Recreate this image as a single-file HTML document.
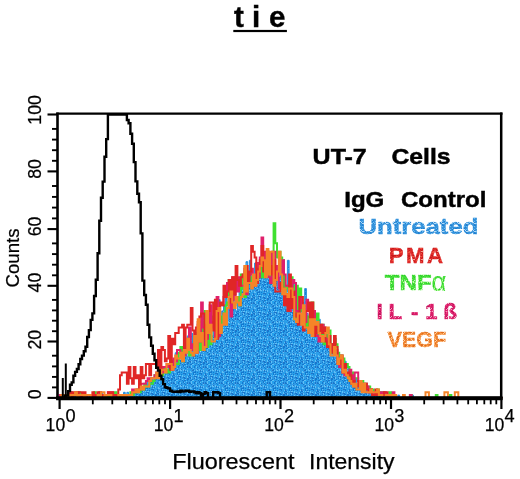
<!DOCTYPE html>
<html><head><meta charset="utf-8"><title>tie</title>
<style>
html,body{margin:0;padding:0;background:#fff;}
body{width:520px;height:479px;overflow:hidden;font-family:"Liberation Sans",sans-serif;}
svg text{font-family:"Liberation Sans",sans-serif;}
</style></head><body>
<svg width="520" height="479" viewBox="0 0 520 479" style="display:block">
<defs>
<pattern id="pBlue" width="16" height="16" patternUnits="userSpaceOnUse"><rect width="16" height="16" fill="#2f9be6"/><rect x="1" y="0" width="1" height="1" fill="#60c0f6"/><rect x="9" y="0" width="1" height="1" fill="#1478cf"/><rect x="11" y="0" width="1" height="1" fill="#60c0f6"/><rect x="13" y="0" width="1" height="1" fill="#22a2ee"/><rect x="15" y="0" width="1" height="1" fill="#1478cf"/><rect x="1" y="1" width="1" height="1" fill="#1478cf"/><rect x="4" y="1" width="1" height="1" fill="#60c0f6"/><rect x="5" y="1" width="1" height="1" fill="#2a6fc0"/><rect x="7" y="1" width="1" height="1" fill="#60c0f6"/><rect x="8" y="1" width="1" height="1" fill="#22a2ee"/><rect x="9" y="1" width="1" height="1" fill="#22a2ee"/><rect x="13" y="1" width="1" height="1" fill="#22a2ee"/><rect x="0" y="2" width="1" height="1" fill="#2a6fc0"/><rect x="1" y="2" width="1" height="1" fill="#1478cf"/><rect x="2" y="2" width="1" height="1" fill="#60c0f6"/><rect x="4" y="2" width="1" height="1" fill="#60c0f6"/><rect x="5" y="2" width="1" height="1" fill="#60c0f6"/><rect x="7" y="2" width="1" height="1" fill="#60c0f6"/><rect x="8" y="2" width="1" height="1" fill="#2a6fc0"/><rect x="9" y="2" width="1" height="1" fill="#60c0f6"/><rect x="11" y="2" width="1" height="1" fill="#60c0f6"/><rect x="14" y="2" width="1" height="1" fill="#22a2ee"/><rect x="3" y="3" width="1" height="1" fill="#1478cf"/><rect x="8" y="3" width="1" height="1" fill="#1478cf"/><rect x="10" y="3" width="1" height="1" fill="#1478cf"/><rect x="11" y="3" width="1" height="1" fill="#60c0f6"/><rect x="14" y="3" width="1" height="1" fill="#60c0f6"/><rect x="1" y="4" width="1" height="1" fill="#1478cf"/><rect x="2" y="4" width="1" height="1" fill="#1478cf"/><rect x="3" y="4" width="1" height="1" fill="#1478cf"/><rect x="4" y="4" width="1" height="1" fill="#22a2ee"/><rect x="5" y="4" width="1" height="1" fill="#1478cf"/><rect x="6" y="4" width="1" height="1" fill="#22a2ee"/><rect x="9" y="4" width="1" height="1" fill="#60c0f6"/><rect x="12" y="4" width="1" height="1" fill="#22a2ee"/><rect x="14" y="4" width="1" height="1" fill="#60c0f6"/><rect x="15" y="4" width="1" height="1" fill="#60c0f6"/><rect x="0" y="5" width="1" height="1" fill="#22a2ee"/><rect x="1" y="5" width="1" height="1" fill="#1478cf"/><rect x="2" y="5" width="1" height="1" fill="#60c0f6"/><rect x="5" y="5" width="1" height="1" fill="#22a2ee"/><rect x="7" y="5" width="1" height="1" fill="#2a6fc0"/><rect x="8" y="5" width="1" height="1" fill="#1478cf"/><rect x="9" y="5" width="1" height="1" fill="#1478cf"/><rect x="11" y="5" width="1" height="1" fill="#22a2ee"/><rect x="13" y="5" width="1" height="1" fill="#1478cf"/><rect x="0" y="6" width="1" height="1" fill="#22a2ee"/><rect x="1" y="6" width="1" height="1" fill="#1478cf"/><rect x="3" y="6" width="1" height="1" fill="#1478cf"/><rect x="5" y="6" width="1" height="1" fill="#1478cf"/><rect x="6" y="6" width="1" height="1" fill="#22a2ee"/><rect x="8" y="6" width="1" height="1" fill="#22a2ee"/><rect x="9" y="6" width="1" height="1" fill="#1478cf"/><rect x="11" y="6" width="1" height="1" fill="#22a2ee"/><rect x="12" y="6" width="1" height="1" fill="#60c0f6"/><rect x="13" y="6" width="1" height="1" fill="#2a6fc0"/><rect x="0" y="7" width="1" height="1" fill="#22a2ee"/><rect x="1" y="7" width="1" height="1" fill="#60c0f6"/><rect x="3" y="7" width="1" height="1" fill="#60c0f6"/><rect x="4" y="7" width="1" height="1" fill="#60c0f6"/><rect x="5" y="7" width="1" height="1" fill="#22a2ee"/><rect x="6" y="7" width="1" height="1" fill="#60c0f6"/><rect x="12" y="7" width="1" height="1" fill="#22a2ee"/><rect x="13" y="7" width="1" height="1" fill="#1478cf"/><rect x="14" y="7" width="1" height="1" fill="#1478cf"/><rect x="15" y="7" width="1" height="1" fill="#60c0f6"/><rect x="2" y="8" width="1" height="1" fill="#1478cf"/><rect x="3" y="8" width="1" height="1" fill="#2a6fc0"/><rect x="4" y="8" width="1" height="1" fill="#1478cf"/><rect x="6" y="8" width="1" height="1" fill="#60c0f6"/><rect x="8" y="8" width="1" height="1" fill="#60c0f6"/><rect x="10" y="8" width="1" height="1" fill="#22a2ee"/><rect x="11" y="8" width="1" height="1" fill="#60c0f6"/><rect x="12" y="8" width="1" height="1" fill="#1478cf"/><rect x="3" y="9" width="1" height="1" fill="#60c0f6"/><rect x="4" y="9" width="1" height="1" fill="#1478cf"/><rect x="7" y="9" width="1" height="1" fill="#2a6fc0"/><rect x="8" y="9" width="1" height="1" fill="#1478cf"/><rect x="11" y="9" width="1" height="1" fill="#60c0f6"/><rect x="13" y="9" width="1" height="1" fill="#1478cf"/><rect x="14" y="9" width="1" height="1" fill="#2a6fc0"/><rect x="15" y="9" width="1" height="1" fill="#60c0f6"/><rect x="2" y="10" width="1" height="1" fill="#1478cf"/><rect x="3" y="10" width="1" height="1" fill="#60c0f6"/><rect x="8" y="10" width="1" height="1" fill="#1478cf"/><rect x="9" y="10" width="1" height="1" fill="#1478cf"/><rect x="11" y="10" width="1" height="1" fill="#2a6fc0"/><rect x="12" y="10" width="1" height="1" fill="#1478cf"/><rect x="14" y="10" width="1" height="1" fill="#1478cf"/><rect x="15" y="10" width="1" height="1" fill="#60c0f6"/><rect x="0" y="11" width="1" height="1" fill="#1478cf"/><rect x="4" y="11" width="1" height="1" fill="#1478cf"/><rect x="6" y="11" width="1" height="1" fill="#60c0f6"/><rect x="9" y="11" width="1" height="1" fill="#60c0f6"/><rect x="11" y="11" width="1" height="1" fill="#1478cf"/><rect x="12" y="11" width="1" height="1" fill="#1478cf"/><rect x="13" y="11" width="1" height="1" fill="#22a2ee"/><rect x="0" y="12" width="1" height="1" fill="#60c0f6"/><rect x="1" y="12" width="1" height="1" fill="#60c0f6"/><rect x="2" y="12" width="1" height="1" fill="#22a2ee"/><rect x="3" y="12" width="1" height="1" fill="#22a2ee"/><rect x="6" y="12" width="1" height="1" fill="#1478cf"/><rect x="7" y="12" width="1" height="1" fill="#22a2ee"/><rect x="8" y="12" width="1" height="1" fill="#2a6fc0"/><rect x="9" y="12" width="1" height="1" fill="#1478cf"/><rect x="10" y="12" width="1" height="1" fill="#22a2ee"/><rect x="11" y="12" width="1" height="1" fill="#1478cf"/><rect x="14" y="12" width="1" height="1" fill="#1478cf"/><rect x="15" y="12" width="1" height="1" fill="#1478cf"/><rect x="0" y="13" width="1" height="1" fill="#22a2ee"/><rect x="1" y="13" width="1" height="1" fill="#22a2ee"/><rect x="3" y="13" width="1" height="1" fill="#2a6fc0"/><rect x="7" y="13" width="1" height="1" fill="#1478cf"/><rect x="9" y="13" width="1" height="1" fill="#22a2ee"/><rect x="10" y="13" width="1" height="1" fill="#60c0f6"/><rect x="15" y="13" width="1" height="1" fill="#60c0f6"/><rect x="1" y="14" width="1" height="1" fill="#22a2ee"/><rect x="2" y="14" width="1" height="1" fill="#1478cf"/><rect x="3" y="14" width="1" height="1" fill="#22a2ee"/><rect x="4" y="14" width="1" height="1" fill="#60c0f6"/><rect x="5" y="14" width="1" height="1" fill="#22a2ee"/><rect x="7" y="14" width="1" height="1" fill="#1478cf"/><rect x="8" y="14" width="1" height="1" fill="#60c0f6"/><rect x="11" y="14" width="1" height="1" fill="#1478cf"/><rect x="13" y="14" width="1" height="1" fill="#1478cf"/><rect x="15" y="14" width="1" height="1" fill="#60c0f6"/><rect x="1" y="15" width="1" height="1" fill="#22a2ee"/><rect x="2" y="15" width="1" height="1" fill="#1478cf"/><rect x="4" y="15" width="1" height="1" fill="#60c0f6"/><rect x="5" y="15" width="1" height="1" fill="#1478cf"/><rect x="8" y="15" width="1" height="1" fill="#1478cf"/><rect x="9" y="15" width="1" height="1" fill="#22a2ee"/><rect x="11" y="15" width="1" height="1" fill="#2a6fc0"/><rect x="13" y="15" width="1" height="1" fill="#2a6fc0"/><rect x="14" y="15" width="1" height="1" fill="#1478cf"/><rect x="15" y="15" width="1" height="1" fill="#60c0f6"/></pattern>
<pattern id="tBlue" width="8" height="8" patternUnits="userSpaceOnUse"><rect width="8" height="8" fill="#3593dc"/><rect x="2" y="0" width="1" height="1" fill="#1f7fd0"/><rect x="7" y="0" width="1" height="1" fill="#1f7fd0"/><rect x="2" y="1" width="1" height="1" fill="#1f7fd0"/><rect x="3" y="1" width="1" height="1" fill="#1f7fd0"/><rect x="7" y="1" width="1" height="1" fill="#6cbcf0"/><rect x="0" y="2" width="1" height="1" fill="#6cbcf0"/><rect x="2" y="2" width="1" height="1" fill="#6cbcf0"/><rect x="1" y="3" width="1" height="1" fill="#1f7fd0"/><rect x="0" y="4" width="1" height="1" fill="#1f7fd0"/><rect x="4" y="4" width="1" height="1" fill="#6cbcf0"/><rect x="5" y="4" width="1" height="1" fill="#1f7fd0"/><rect x="7" y="4" width="1" height="1" fill="#1f7fd0"/><rect x="0" y="5" width="1" height="1" fill="#b4daf6"/><rect x="2" y="5" width="1" height="1" fill="#6cbcf0"/><rect x="4" y="5" width="1" height="1" fill="#1f7fd0"/><rect x="7" y="5" width="1" height="1" fill="#6cbcf0"/><rect x="0" y="6" width="1" height="1" fill="#1f7fd0"/><rect x="1" y="6" width="1" height="1" fill="#b4daf6"/><rect x="2" y="6" width="1" height="1" fill="#1f7fd0"/><rect x="5" y="6" width="1" height="1" fill="#6cbcf0"/><rect x="2" y="7" width="1" height="1" fill="#b4daf6"/><rect x="3" y="7" width="1" height="1" fill="#b4daf6"/><rect x="4" y="7" width="1" height="1" fill="#6cbcf0"/><rect x="5" y="7" width="1" height="1" fill="#1f7fd0"/><rect x="6" y="7" width="1" height="1" fill="#6cbcf0"/></pattern>
<pattern id="tRed" width="8" height="8" patternUnits="userSpaceOnUse"><rect width="8" height="8" fill="#df2a2a"/><rect x="0" y="0" width="1" height="1" fill="#c81a1a"/><rect x="1" y="0" width="1" height="1" fill="#c81a1a"/><rect x="4" y="0" width="1" height="1" fill="#f0503c"/><rect x="5" y="0" width="1" height="1" fill="#f0503c"/><rect x="4" y="1" width="1" height="1" fill="#c81a1a"/><rect x="6" y="1" width="1" height="1" fill="#c81a1a"/><rect x="7" y="1" width="1" height="1" fill="#c81a1a"/><rect x="1" y="2" width="1" height="1" fill="#c81a1a"/><rect x="5" y="2" width="1" height="1" fill="#c81a1a"/><rect x="1" y="3" width="1" height="1" fill="#f0503c"/><rect x="5" y="3" width="1" height="1" fill="#f4a090"/><rect x="6" y="3" width="1" height="1" fill="#f4a090"/><rect x="7" y="3" width="1" height="1" fill="#c81a1a"/><rect x="0" y="4" width="1" height="1" fill="#f0503c"/><rect x="1" y="4" width="1" height="1" fill="#f0503c"/><rect x="4" y="4" width="1" height="1" fill="#c81a1a"/><rect x="5" y="4" width="1" height="1" fill="#c81a1a"/><rect x="5" y="5" width="1" height="1" fill="#f0503c"/><rect x="6" y="5" width="1" height="1" fill="#c81a1a"/><rect x="0" y="7" width="1" height="1" fill="#c81a1a"/><rect x="1" y="7" width="1" height="1" fill="#c81a1a"/><rect x="2" y="7" width="1" height="1" fill="#c81a1a"/><rect x="3" y="7" width="1" height="1" fill="#c81a1a"/><rect x="5" y="7" width="1" height="1" fill="#c81a1a"/><rect x="7" y="7" width="1" height="1" fill="#c81a1a"/></pattern>
<pattern id="tGreen" width="8" height="8" patternUnits="userSpaceOnUse"><rect width="8" height="8" fill="#44e038"/><rect x="0" y="0" width="1" height="1" fill="#b8f8a8"/><rect x="2" y="0" width="1" height="1" fill="#b8f8a8"/><rect x="3" y="0" width="1" height="1" fill="#2ccc2a"/><rect x="4" y="0" width="1" height="1" fill="#2ccc2a"/><rect x="6" y="0" width="1" height="1" fill="#b8f8a8"/><rect x="2" y="1" width="1" height="1" fill="#70f050"/><rect x="4" y="1" width="1" height="1" fill="#70f050"/><rect x="5" y="1" width="1" height="1" fill="#b8f8a8"/><rect x="7" y="1" width="1" height="1" fill="#2ccc2a"/><rect x="3" y="2" width="1" height="1" fill="#b8f8a8"/><rect x="5" y="2" width="1" height="1" fill="#b8f8a8"/><rect x="6" y="2" width="1" height="1" fill="#70f050"/><rect x="7" y="2" width="1" height="1" fill="#70f050"/><rect x="2" y="3" width="1" height="1" fill="#2ccc2a"/><rect x="4" y="3" width="1" height="1" fill="#2ccc2a"/><rect x="7" y="3" width="1" height="1" fill="#b8f8a8"/><rect x="5" y="4" width="1" height="1" fill="#2ccc2a"/><rect x="7" y="4" width="1" height="1" fill="#2ccc2a"/><rect x="1" y="5" width="1" height="1" fill="#2ccc2a"/><rect x="2" y="5" width="1" height="1" fill="#70f050"/><rect x="6" y="5" width="1" height="1" fill="#2ccc2a"/><rect x="0" y="6" width="1" height="1" fill="#2ccc2a"/><rect x="1" y="6" width="1" height="1" fill="#2ccc2a"/><rect x="2" y="6" width="1" height="1" fill="#70f050"/><rect x="4" y="6" width="1" height="1" fill="#2ccc2a"/><rect x="0" y="7" width="1" height="1" fill="#70f050"/><rect x="2" y="7" width="1" height="1" fill="#70f050"/><rect x="4" y="7" width="1" height="1" fill="#70f050"/><rect x="7" y="7" width="1" height="1" fill="#2ccc2a"/></pattern>
<pattern id="tPink" width="8" height="8" patternUnits="userSpaceOnUse"><rect width="8" height="8" fill="#d81c68"/><rect x="1" y="0" width="1" height="1" fill="#ee3a80"/><rect x="3" y="0" width="1" height="1" fill="#ee3a80"/><rect x="5" y="0" width="1" height="1" fill="#c01058"/><rect x="6" y="0" width="1" height="1" fill="#ee3a80"/><rect x="3" y="1" width="1" height="1" fill="#c01058"/><rect x="6" y="1" width="1" height="1" fill="#ee3a80"/><rect x="2" y="2" width="1" height="1" fill="#c01058"/><rect x="3" y="2" width="1" height="1" fill="#c01058"/><rect x="4" y="2" width="1" height="1" fill="#c01058"/><rect x="3" y="3" width="1" height="1" fill="#f4a0c0"/><rect x="4" y="3" width="1" height="1" fill="#f4a0c0"/><rect x="0" y="4" width="1" height="1" fill="#c01058"/><rect x="1" y="4" width="1" height="1" fill="#ee3a80"/><rect x="3" y="4" width="1" height="1" fill="#c01058"/><rect x="6" y="4" width="1" height="1" fill="#c01058"/><rect x="7" y="4" width="1" height="1" fill="#f4a0c0"/><rect x="1" y="5" width="1" height="1" fill="#ee3a80"/><rect x="2" y="5" width="1" height="1" fill="#ee3a80"/><rect x="3" y="5" width="1" height="1" fill="#f4a0c0"/><rect x="6" y="5" width="1" height="1" fill="#f4a0c0"/><rect x="0" y="6" width="1" height="1" fill="#ee3a80"/><rect x="2" y="6" width="1" height="1" fill="#ee3a80"/><rect x="0" y="7" width="1" height="1" fill="#f4a0c0"/><rect x="1" y="7" width="1" height="1" fill="#c01058"/><rect x="2" y="7" width="1" height="1" fill="#ee3a80"/><rect x="3" y="7" width="1" height="1" fill="#c01058"/><rect x="4" y="7" width="1" height="1" fill="#c01058"/><rect x="5" y="7" width="1" height="1" fill="#ee3a80"/><rect x="6" y="7" width="1" height="1" fill="#f4a0c0"/><rect x="7" y="7" width="1" height="1" fill="#ee3a80"/></pattern>
<pattern id="tOrange" width="8" height="8" patternUnits="userSpaceOnUse"><rect width="8" height="8" fill="#f0822c"/><rect x="0" y="0" width="1" height="1" fill="#fca050"/><rect x="2" y="0" width="1" height="1" fill="#fca050"/><rect x="5" y="0" width="1" height="1" fill="#e06c1c"/><rect x="6" y="0" width="1" height="1" fill="#e06c1c"/><rect x="1" y="1" width="1" height="1" fill="#e06c1c"/><rect x="3" y="1" width="1" height="1" fill="#fca050"/><rect x="5" y="1" width="1" height="1" fill="#e06c1c"/><rect x="6" y="1" width="1" height="1" fill="#e06c1c"/><rect x="7" y="1" width="1" height="1" fill="#fcd0a0"/><rect x="0" y="2" width="1" height="1" fill="#fca050"/><rect x="2" y="2" width="1" height="1" fill="#fca050"/><rect x="3" y="2" width="1" height="1" fill="#fca050"/><rect x="5" y="2" width="1" height="1" fill="#e06c1c"/><rect x="6" y="2" width="1" height="1" fill="#fca050"/><rect x="7" y="2" width="1" height="1" fill="#fca050"/><rect x="0" y="3" width="1" height="1" fill="#e06c1c"/><rect x="1" y="3" width="1" height="1" fill="#e06c1c"/><rect x="3" y="3" width="1" height="1" fill="#fcd0a0"/><rect x="6" y="3" width="1" height="1" fill="#e06c1c"/><rect x="7" y="3" width="1" height="1" fill="#fcd0a0"/><rect x="1" y="4" width="1" height="1" fill="#e06c1c"/><rect x="2" y="4" width="1" height="1" fill="#e06c1c"/><rect x="3" y="4" width="1" height="1" fill="#e06c1c"/><rect x="4" y="4" width="1" height="1" fill="#fcd0a0"/><rect x="0" y="5" width="1" height="1" fill="#fca050"/><rect x="1" y="5" width="1" height="1" fill="#fca050"/><rect x="3" y="5" width="1" height="1" fill="#fcd0a0"/><rect x="6" y="5" width="1" height="1" fill="#e06c1c"/><rect x="1" y="6" width="1" height="1" fill="#fca050"/><rect x="2" y="6" width="1" height="1" fill="#fca050"/><rect x="7" y="6" width="1" height="1" fill="#fca050"/><rect x="2" y="7" width="1" height="1" fill="#fca050"/><rect x="3" y="7" width="1" height="1" fill="#e06c1c"/><rect x="4" y="7" width="1" height="1" fill="#fca050"/><rect x="5" y="7" width="1" height="1" fill="#fcd0a0"/><rect x="6" y="7" width="1" height="1" fill="#fca050"/></pattern>
<filter id="idf" x="0" y="0" width="520" height="479" filterUnits="userSpaceOnUse"><feOffset dx="0" dy="0"/></filter>
</defs>
<rect width="520" height="479" fill="#ffffff"/>
<g fill="none" stroke-linejoin="miter" stroke-linecap="butt">
<path d="M59.6 398.3 L59.6 397.9 L61.3 397.9 L61.3 397.9 L63.1 397.9 L63.1 397.9 L64.8 397.9 L64.8 395.1 L66.5 395.1 L66.5 397.9 L68.2 397.9 L68.2 397.9 L70.0 397.9 L70.0 397.9 L71.7 397.9 L71.7 392.3 L73.4 392.3 L73.4 392.3 L75.1 392.3 L75.1 395.1 L76.9 395.1 L76.9 397.9 L78.6 397.9 L78.6 397.9 L80.3 397.9 L80.3 397.9 L82.0 397.9 L82.0 392.3 L83.8 392.3 L83.8 397.9 L85.5 397.9 L85.5 397.9 L87.2 397.9 L87.2 397.9 L88.9 397.9 L88.9 395.1 L90.7 395.1 L90.7 397.9 L92.4 397.9 L92.4 397.9 L94.1 397.9 L94.1 397.9 L95.8 397.9 L95.8 395.1 L97.6 395.1 L97.6 397.9 L99.3 397.9 L99.3 397.9 L101.0 397.9 L101.0 392.3 L102.7 392.3 L102.7 397.9 L104.5 397.9 L104.5 395.1 L106.2 395.1 L106.2 397.9 L107.9 397.9 L107.9 397.9 L109.6 397.9 L109.6 397.9 L111.4 397.9 L111.4 397.9 L113.1 397.9 L113.1 397.9 L114.8 397.9 L114.8 392.3 L116.6 392.3 L116.6 395.1 L118.3 395.1 L118.3 395.1 L120.0 395.1 L120.0 395.1 L121.7 395.1 L121.7 395.1 L123.5 395.1 L123.5 392.3 L125.2 392.3 L125.2 397.9 L126.9 397.9 L126.9 392.3 L128.6 392.3 L128.6 395.1 L130.4 395.1 L130.4 395.1 L132.1 395.1 L132.1 392.3 L133.8 392.3 L133.8 392.3 L135.5 392.3 L135.5 389.4 L137.3 389.4 L137.3 392.3 L139.0 392.3 L139.0 389.4 L140.7 389.4 L140.7 386.6 L142.4 386.6 L142.4 389.4 L144.2 389.4 L144.2 386.6 L145.9 386.6 L145.9 383.8 L147.6 383.8 L147.6 381.0 L149.3 381.0 L149.3 378.2 L151.1 378.2 L151.1 378.2 L152.8 378.2 L152.8 378.2 L154.5 378.2 L154.5 378.2 L156.2 378.2 L156.2 372.5 L158.0 372.5 L158.0 375.3 L159.7 375.3 L159.7 372.5 L161.4 372.5 L161.4 369.7 L163.1 369.7 L163.1 375.3 L164.9 375.3 L164.9 366.9 L166.6 366.9 L166.6 369.7 L168.3 369.7 L168.3 366.9 L170.1 366.9 L170.1 358.4 L171.8 358.4 L171.8 366.9 L173.5 366.9 L173.5 364.1 L175.2 364.1 L175.2 352.8 L177.0 352.8 L177.0 361.2 L178.7 361.2 L178.7 358.4 L180.4 358.4 L180.4 352.8 L182.1 352.8 L182.1 350.0 L183.9 350.0 L183.9 347.1 L185.6 347.1 L185.6 344.3 L187.3 344.3 L187.3 335.9 L189.0 335.9 L189.0 335.9 L190.8 335.9 L190.8 333.1 L192.5 333.1 L192.5 347.1 L194.2 347.1 L194.2 344.3 L195.9 344.3 L195.9 352.8 L197.7 352.8 L197.7 327.6 L199.4 327.6 L199.4 352.8 L201.1 352.8 L201.1 324.8 L202.8 324.8 L202.8 313.6 L204.6 313.6 L204.6 344.3 L206.3 344.3 L206.3 338.7 L208.0 338.7 L208.0 333.1 L209.7 333.1 L209.7 316.4 L211.5 316.4 L211.5 335.9 L213.2 335.9 L213.2 324.8 L214.9 324.8 L214.9 327.6 L216.6 327.6 L216.6 322.0 L218.4 322.0 L218.4 299.7 L220.1 299.7 L220.1 324.8 L221.8 324.8 L221.8 310.9 L223.5 310.9 L223.5 305.3 L225.3 305.3 L225.3 294.2 L227.0 294.2 L227.0 319.2 L228.7 319.2 L228.7 288.6 L230.5 288.6 L230.5 294.2 L232.2 294.2 L232.2 288.6 L233.9 288.6 L233.9 294.2 L235.6 294.2 L235.6 310.9 L237.4 310.9 L237.4 299.7 L239.1 299.7 L239.1 283.0 L240.8 283.0 L240.8 288.6 L242.5 288.6 L242.5 285.8 L244.3 285.8 L244.3 266.0 L246.0 266.0 L246.0 261.7 L247.7 261.7 L247.7 280.1 L249.4 280.1 L249.4 260.3 L251.2 260.3 L251.2 288.6 L252.9 288.6 L252.9 285.8 L254.6 285.8 L254.6 263.1 L256.3 263.1 L256.3 271.6 L258.1 271.6 L258.1 263.1 L259.8 263.1 L259.8 263.1 L261.5 263.1 L261.5 266.0 L263.2 266.0 L263.2 260.3 L265.0 260.3 L265.0 266.0 L266.7 266.0 L266.7 277.3 L268.4 277.3 L268.4 266.0 L270.1 266.0 L270.1 266.0 L271.9 266.0 L271.9 251.8 L273.6 251.8 L273.6 283.0 L275.3 283.0 L275.3 271.6 L277.0 271.6 L277.0 280.1 L278.8 280.1 L278.8 277.3 L280.5 277.3 L280.5 257.4 L282.2 257.4 L282.2 277.3 L284.0 277.3 L284.0 291.4 L285.7 291.4 L285.7 288.6 L287.4 288.6 L287.4 260.3 L289.1 260.3 L289.1 308.1 L290.9 308.1 L290.9 302.5 L292.6 302.5 L292.6 283.0 L294.3 283.0 L294.3 294.2 L296.0 294.2 L296.0 305.3 L297.8 305.3 L297.8 313.6 L299.5 313.6 L299.5 310.9 L301.2 310.9 L301.2 327.6 L302.9 327.6 L302.9 302.5 L304.7 302.5 L304.7 288.6 L306.4 288.6 L306.4 313.6 L308.1 313.6 L308.1 330.4 L309.8 330.4 L309.8 324.8 L311.6 324.8 L311.6 313.6 L313.3 313.6 L313.3 319.2 L315.0 319.2 L315.0 327.6 L316.7 327.6 L316.7 316.4 L318.5 316.4 L318.5 319.2 L320.2 319.2 L320.2 335.9 L321.9 335.9 L321.9 338.7 L323.6 338.7 L323.6 341.5 L325.4 341.5 L325.4 344.3 L327.1 344.3 L327.1 335.9 L328.8 335.9 L328.8 341.5 L330.5 341.5 L330.5 344.3 L332.3 344.3 L332.3 355.6 L334.0 355.6 L334.0 355.6 L335.7 355.6 L335.7 355.6 L337.5 355.6 L337.5 358.4 L339.2 358.4 L339.2 361.2 L340.9 361.2 L340.9 366.9 L342.6 366.9 L342.6 364.1 L344.4 364.1 L344.4 361.2 L346.1 361.2 L346.1 366.9 L347.8 366.9 L347.8 366.9 L349.5 366.9 L349.5 375.3 L351.3 375.3 L351.3 375.3 L353.0 375.3 L353.0 381.0 L354.7 381.0 L354.7 378.2 L356.4 378.2 L356.4 383.8 L358.2 383.8 L358.2 386.6 L359.9 386.6 L359.9 386.6 L361.6 386.6 L361.6 383.8 L363.3 383.8 L363.3 386.6 L365.1 386.6 L365.1 389.4 L366.8 389.4 L366.8 392.3 L368.5 392.3 L368.5 389.4 L370.2 389.4 L370.2 395.1 L372.0 395.1 L372.0 389.4 L373.7 389.4 L373.7 392.3 L375.4 392.3 L375.4 392.3 L377.1 392.3 L377.1 392.3 L378.9 392.3 L378.9 395.1 L380.6 395.1 L380.6 395.1 L382.3 395.1 L382.3 395.1 L384.0 395.1 L384.0 392.3 L385.8 392.3 L385.8 397.9 L387.5 397.9 L387.5 397.9 L389.2 397.9 L389.2 395.1 L391.0 395.1 L391.0 397.9 L392.7 397.9 L392.7 395.1 L394.4 395.1 L394.4 395.1 L396.1 395.1 L396.1 397.9 L397.9 397.9 L397.9 395.1 L399.6 395.1 L399.6 397.9 L401.3 397.9 L401.3 397.9 L403.0 397.9 L403.0 397.9 L404.8 397.9 L404.8 397.9 L406.5 397.9 L406.5 397.9 L408.2 397.9 L408.2 397.9 L409.9 397.9 L409.9 397.9 L411.7 397.9 L411.7 395.1 L413.4 395.1 L413.4 397.9 L415.1 397.9 L415.1 397.9 L416.8 397.9 L416.8 397.9 L418.6 397.9 L418.6 397.9 L420.3 397.9 L420.3 397.9 L422.0 397.9 L422.0 397.9 L423.7 397.9 L423.7 397.9 L425.5 397.9 L425.5 397.9 L427.2 397.9 L427.2 397.9 L428.9 397.9 L428.9 397.9 L430.6 397.9 L430.6 397.9 L432.4 397.9 L432.4 397.9 L434.1 397.9 L434.1 397.9 L435.8 397.9 L435.8 397.9 L437.5 397.9 L437.5 397.9 L439.3 397.9 L439.3 397.9 L441.0 397.9 L441.0 397.9 L442.7 397.9 L442.7 397.9 L444.4 397.9 L444.4 397.9 L446.2 397.9 L446.2 397.9 L447.9 397.9 L447.9 397.9 L449.6 397.9 L449.6 397.9 L451.4 397.9 L451.4 397.9 L453.1 397.9 L453.1 397.9 L454.8 397.9 L454.8 397.9 L456.5 397.9 L456.5 397.9 L458.3 397.9 L458.3 397.9 L460.0 397.9 L460.0 397.9 L461.7 397.9 L461.7 397.9 L463.4 397.9 L463.4 397.9 L465.2 397.9 L465.2 397.9 L466.9 397.9 L466.9 397.9 L468.6 397.9 L468.6 397.9 L470.3 397.9 L470.3 397.9 L472.1 397.9 L472.1 397.9 L473.8 397.9 L473.8 397.9 L475.5 397.9 L475.5 397.9 L477.2 397.9 L477.2 397.9 L479.0 397.9 L479.0 397.9 L480.7 397.9 L480.7 397.9 L482.4 397.9 L482.4 397.9 L484.1 397.9 L484.1 397.9 L485.9 397.9 L485.9 397.9 L487.6 397.9 L487.6 397.9 L489.3 397.9 L489.3 397.9 L491.0 397.9 L491.0 397.9 L492.8 397.9 L492.8 397.9 L494.5 397.9 L494.5 397.9 L496.2 397.9 L496.2 397.9 L497.9 397.9 L497.9 397.9 L499.7 397.9 L499.7 397.9 L501.4 397.9 L501.4 398.3 Z" fill="url(#pBlue)" stroke="#2a8fdc" stroke-width="1"/>
<path d="M59.6 398.3 L59.6 397.9 L61.3 397.9 L61.3 397.9 L63.1 397.9 L63.1 397.9 L64.8 397.9 L64.8 397.9 L66.5 397.9 L66.5 395.1 L68.2 395.1 L68.2 397.9 L70.0 397.9 L70.0 392.3 L71.7 392.3 L71.7 395.1 L73.4 395.1 L73.4 397.9 L75.1 397.9 L75.1 397.9 L76.9 397.9 L76.9 397.9 L78.6 397.9 L78.6 392.3 L80.3 392.3 L80.3 397.9 L82.0 397.9 L82.0 397.9 L83.8 397.9 L83.8 395.1 L85.5 395.1 L85.5 395.1 L87.2 395.1 L87.2 397.9 L88.9 397.9 L88.9 397.9 L90.7 397.9 L90.7 395.1 L92.4 395.1 L92.4 397.9 L94.1 397.9 L94.1 392.3 L95.8 392.3 L95.8 397.9 L97.6 397.9 L97.6 397.9 L99.3 397.9 L99.3 397.9 L101.0 397.9 L101.0 397.9 L102.7 397.9 L102.7 397.9 L104.5 397.9 L104.5 397.9 L106.2 397.9 L106.2 397.9 L107.9 397.9 L107.9 395.1 L109.6 395.1 L109.6 397.9 L111.4 397.9 L111.4 395.1 L113.1 395.1 L113.1 397.9 L114.8 397.9 L114.8 392.3 L116.6 392.3 L116.6 397.9 L118.3 397.9 L118.3 397.9 L120.0 397.9 L120.0 395.1 L121.7 395.1 L121.7 397.9 L123.5 397.9 L123.5 395.1 L125.2 395.1 L125.2 397.9 L126.9 397.9 L126.9 395.1 L128.6 395.1 L128.6 395.1 L130.4 395.1 L130.4 392.3 L132.1 392.3 L132.1 395.1 L133.8 395.1 L133.8 392.3 L135.5 392.3 L135.5 392.3 L137.3 392.3 L137.3 389.4 L139.0 389.4 L139.0 392.3 L140.7 392.3 L140.7 389.4 L142.4 389.4 L142.4 389.4 L144.2 389.4 L144.2 383.8 L145.9 383.8 L145.9 386.6 L147.6 386.6 L147.6 386.6 L149.3 386.6 L149.3 383.8 L151.1 383.8 L151.1 383.8 L152.8 383.8 L152.8 381.0 L154.5 381.0 L154.5 375.3 L156.2 375.3 L156.2 375.3 L158.0 375.3 L158.0 375.3 L159.7 375.3 L159.7 369.7 L161.4 369.7 L161.4 375.3 L163.1 375.3 L163.1 366.9 L164.9 366.9 L164.9 372.5 L166.6 372.5 L166.6 369.7 L168.3 369.7 L168.3 372.5 L170.1 372.5 L170.1 369.7 L171.8 369.7 L171.8 364.1 L173.5 364.1 L173.5 361.2 L175.2 361.2 L175.2 364.1 L177.0 364.1 L177.0 364.1 L178.7 364.1 L178.7 352.8 L180.4 352.8 L180.4 347.1 L182.1 347.1 L182.1 361.2 L183.9 361.2 L183.9 355.6 L185.6 355.6 L185.6 350.0 L187.3 350.0 L187.3 347.1 L189.0 347.1 L189.0 355.6 L190.8 355.6 L190.8 344.3 L192.5 344.3 L192.5 347.1 L194.2 347.1 L194.2 350.0 L195.9 350.0 L195.9 333.1 L197.7 333.1 L197.7 333.1 L199.4 333.1 L199.4 350.0 L201.1 350.0 L201.1 322.0 L202.8 322.0 L202.8 350.0 L204.6 350.0 L204.6 310.9 L206.3 310.9 L206.3 347.1 L208.0 347.1 L208.0 316.4 L209.7 316.4 L209.7 344.3 L211.5 344.3 L211.5 324.8 L213.2 324.8 L213.2 316.4 L214.9 316.4 L214.9 338.7 L216.6 338.7 L216.6 316.4 L218.4 316.4 L218.4 335.9 L220.1 335.9 L220.1 330.4 L221.8 330.4 L221.8 316.4 L223.5 316.4 L223.5 313.6 L225.3 313.6 L225.3 305.3 L227.0 305.3 L227.0 302.5 L228.7 302.5 L228.7 280.1 L230.5 280.1 L230.5 294.2 L232.2 294.2 L232.2 305.3 L233.9 305.3 L233.9 305.3 L235.6 305.3 L235.6 302.5 L237.4 302.5 L237.4 296.9 L239.1 296.9 L239.1 305.3 L240.8 305.3 L240.8 274.5 L242.5 274.5 L242.5 288.6 L244.3 288.6 L244.3 296.9 L246.0 296.9 L246.0 294.2 L247.7 294.2 L247.7 274.5 L249.4 274.5 L249.4 277.3 L251.2 277.3 L251.2 285.8 L252.9 285.8 L252.9 285.8 L254.6 285.8 L254.6 283.0 L256.3 283.0 L256.3 266.0 L258.1 266.0 L258.1 271.6 L259.8 271.6 L259.8 277.3 L261.5 277.3 L261.5 260.3 L263.2 260.3 L263.2 277.3 L265.0 277.3 L265.0 271.6 L266.7 271.6 L266.7 251.8 L268.4 251.8 L268.4 254.6 L270.1 254.6 L270.1 283.0 L271.9 283.0 L271.9 271.6 L273.6 271.6 L273.6 223.3 L275.3 223.3 L275.3 243.3 L277.0 243.3 L277.0 257.4 L278.8 257.4 L278.8 251.8 L280.5 251.8 L280.5 257.4 L282.2 257.4 L282.2 260.3 L284.0 260.3 L284.0 291.4 L285.7 291.4 L285.7 285.8 L287.4 285.8 L287.4 288.6 L289.1 288.6 L289.1 305.3 L290.9 305.3 L290.9 277.3 L292.6 277.3 L292.6 285.8 L294.3 285.8 L294.3 319.2 L296.0 319.2 L296.0 285.8 L297.8 285.8 L297.8 310.9 L299.5 310.9 L299.5 288.6 L301.2 288.6 L301.2 310.9 L302.9 310.9 L302.9 319.2 L304.7 319.2 L304.7 319.2 L306.4 319.2 L306.4 327.6 L308.1 327.6 L308.1 316.4 L309.8 316.4 L309.8 333.1 L311.6 333.1 L311.6 302.5 L313.3 302.5 L313.3 324.8 L315.0 324.8 L315.0 319.2 L316.7 319.2 L316.7 313.6 L318.5 313.6 L318.5 335.9 L320.2 335.9 L320.2 341.5 L321.9 341.5 L321.9 324.8 L323.6 324.8 L323.6 344.3 L325.4 344.3 L325.4 341.5 L327.1 341.5 L327.1 333.1 L328.8 333.1 L328.8 330.4 L330.5 330.4 L330.5 344.3 L332.3 344.3 L332.3 352.8 L334.0 352.8 L334.0 338.7 L335.7 338.7 L335.7 344.3 L337.5 344.3 L337.5 352.8 L339.2 352.8 L339.2 358.4 L340.9 358.4 L340.9 355.6 L342.6 355.6 L342.6 358.4 L344.4 358.4 L344.4 366.9 L346.1 366.9 L346.1 364.1 L347.8 364.1 L347.8 366.9 L349.5 366.9 L349.5 381.0 L351.3 381.0 L351.3 372.5 L353.0 372.5 L353.0 381.0 L354.7 381.0 L354.7 378.2 L356.4 378.2 L356.4 378.2 L358.2 378.2 L358.2 381.0 L359.9 381.0 L359.9 381.0 L361.6 381.0 L361.6 381.0 L363.3 381.0 L363.3 383.8 L365.1 383.8 L365.1 383.8 L366.8 383.8 L366.8 386.6 L368.5 386.6 L368.5 386.6 L370.2 386.6 L370.2 389.4 L372.0 389.4 L372.0 389.4 L373.7 389.4 L373.7 392.3 L375.4 392.3 L375.4 392.3 L377.1 392.3 L377.1 389.4 L378.9 389.4 L378.9 395.1 L380.6 395.1 L380.6 392.3 L382.3 392.3 L382.3 392.3 L384.0 392.3 L384.0 395.1 L385.8 395.1 L385.8 397.9 L387.5 397.9 L387.5 395.1 L389.2 395.1 L389.2 392.3 L391.0 392.3 L391.0 395.1 L392.7 395.1 L392.7 395.1 L394.4 395.1 L394.4 397.9 L396.1 397.9 L396.1 397.9 L397.9 397.9 L397.9 397.9 L399.6 397.9 L399.6 397.9 L401.3 397.9 L401.3 397.9 L403.0 397.9 L403.0 397.9 L404.8 397.9 L404.8 397.9 L406.5 397.9 L406.5 397.9 L408.2 397.9 L408.2 397.9 L409.9 397.9 L409.9 395.1 L411.7 395.1 L411.7 397.9 L413.4 397.9 L413.4 397.9 L415.1 397.9 L415.1 397.9 L416.8 397.9 L416.8 397.9 L418.6 397.9 L418.6 397.9 L420.3 397.9 L420.3 397.9 L422.0 397.9 L422.0 397.9 L423.7 397.9 L423.7 397.9 L425.5 397.9 L425.5 397.9 L427.2 397.9 L427.2 397.9 L428.9 397.9 L428.9 397.9 L430.6 397.9 L430.6 397.9 L432.4 397.9 L432.4 397.9 L434.1 397.9 L434.1 397.9 L435.8 397.9 L435.8 395.1 L437.5 395.1 L437.5 397.9 L439.3 397.9 L439.3 397.9 L441.0 397.9 L441.0 397.9 L442.7 397.9 L442.7 397.9 L444.4 397.9 L444.4 397.9 L446.2 397.9 L446.2 397.9 L447.9 397.9 L447.9 397.9 L449.6 397.9 L449.6 395.1 L451.4 395.1 L451.4 397.9 L453.1 397.9 L453.1 397.9 L454.8 397.9 L454.8 397.9 L456.5 397.9 L456.5 397.9 L458.3 397.9 L458.3 397.9 L460.0 397.9 L460.0 397.9 L461.7 397.9 L461.7 397.9 L463.4 397.9 L463.4 397.9 L465.2 397.9 L465.2 397.9 L466.9 397.9 L466.9 397.9 L468.6 397.9 L468.6 397.9 L470.3 397.9 L470.3 397.9 L472.1 397.9 L472.1 397.9 L473.8 397.9 L473.8 397.9 L475.5 397.9 L475.5 397.9 L477.2 397.9 L477.2 397.9 L479.0 397.9 L479.0 397.9 L480.7 397.9 L480.7 397.9 L482.4 397.9 L482.4 397.9 L484.1 397.9 L484.1 397.9 L485.9 397.9 L485.9 397.9 L487.6 397.9 L487.6 397.9 L489.3 397.9 L489.3 397.9 L491.0 397.9 L491.0 397.9 L492.8 397.9 L492.8 397.9 L494.5 397.9 L494.5 397.9 L496.2 397.9 L496.2 397.9 L497.9 397.9 L497.9 397.9 L499.7 397.9 L499.7 397.9 L501.4 397.9 L501.4 398.3" stroke="#3fe030" stroke-width="2"/>
<path d="M59.6 398.3 L59.6 395.1 L61.3 395.1 L61.3 395.1 L63.1 395.1 L63.1 397.9 L64.8 397.9 L64.8 395.1 L66.5 395.1 L66.5 397.9 L68.2 397.9 L68.2 397.9 L70.0 397.9 L70.0 392.3 L71.7 392.3 L71.7 397.9 L73.4 397.9 L73.4 397.9 L75.1 397.9 L75.1 397.9 L76.9 397.9 L76.9 392.3 L78.6 392.3 L78.6 397.9 L80.3 397.9 L80.3 395.1 L82.0 395.1 L82.0 397.9 L83.8 397.9 L83.8 395.1 L85.5 395.1 L85.5 395.1 L87.2 395.1 L87.2 397.9 L88.9 397.9 L88.9 397.9 L90.7 397.9 L90.7 397.9 L92.4 397.9 L92.4 397.9 L94.1 397.9 L94.1 397.9 L95.8 397.9 L95.8 397.9 L97.6 397.9 L97.6 397.9 L99.3 397.9 L99.3 392.3 L101.0 392.3 L101.0 397.9 L102.7 397.9 L102.7 397.9 L104.5 397.9 L104.5 397.9 L106.2 397.9 L106.2 395.1 L107.9 395.1 L107.9 392.3 L109.6 392.3 L109.6 395.1 L111.4 395.1 L111.4 392.3 L113.1 392.3 L113.1 397.9 L114.8 397.9 L114.8 397.9 L116.6 397.9 L116.6 397.9 L118.3 397.9 L118.3 395.1 L120.0 395.1 L120.0 395.1 L121.7 395.1 L121.7 395.1 L123.5 395.1 L123.5 397.9 L125.2 397.9 L125.2 395.1 L126.9 395.1 L126.9 395.1 L128.6 395.1 L128.6 395.1 L130.4 395.1 L130.4 395.1 L132.1 395.1 L132.1 389.4 L133.8 389.4 L133.8 392.3 L135.5 392.3 L135.5 389.4 L137.3 389.4 L137.3 389.4 L139.0 389.4 L139.0 386.6 L140.7 386.6 L140.7 383.8 L142.4 383.8 L142.4 383.8 L144.2 383.8 L144.2 383.8 L145.9 383.8 L145.9 381.0 L147.6 381.0 L147.6 378.2 L149.3 378.2 L149.3 381.0 L151.1 381.0 L151.1 378.2 L152.8 378.2 L152.8 378.2 L154.5 378.2 L154.5 375.3 L156.2 375.3 L156.2 372.5 L158.0 372.5 L158.0 372.5 L159.7 372.5 L159.7 372.5 L161.4 372.5 L161.4 372.5 L163.1 372.5 L163.1 366.9 L164.9 366.9 L164.9 366.9 L166.6 366.9 L166.6 364.1 L168.3 364.1 L168.3 366.9 L170.1 366.9 L170.1 361.2 L171.8 361.2 L171.8 369.7 L173.5 369.7 L173.5 358.4 L175.2 358.4 L175.2 361.2 L177.0 361.2 L177.0 350.0 L178.7 350.0 L178.7 350.0 L180.4 350.0 L180.4 352.8 L182.1 352.8 L182.1 355.6 L183.9 355.6 L183.9 355.6 L185.6 355.6 L185.6 338.7 L187.3 338.7 L187.3 350.0 L189.0 350.0 L189.0 327.6 L190.8 327.6 L190.8 350.0 L192.5 350.0 L192.5 344.3 L194.2 344.3 L194.2 347.1 L195.9 347.1 L195.9 352.8 L197.7 352.8 L197.7 324.8 L199.4 324.8 L199.4 341.5 L201.1 341.5 L201.1 302.5 L202.8 302.5 L202.8 327.6 L204.6 327.6 L204.6 347.1 L206.3 347.1 L206.3 338.7 L208.0 338.7 L208.0 324.8 L209.7 324.8 L209.7 305.3 L211.5 305.3 L211.5 327.6 L213.2 327.6 L213.2 322.0 L214.9 322.0 L214.9 338.7 L216.6 338.7 L216.6 296.9 L218.4 296.9 L218.4 335.9 L220.1 335.9 L220.1 305.3 L221.8 305.3 L221.8 305.3 L223.5 305.3 L223.5 296.9 L225.3 296.9 L225.3 291.4 L227.0 291.4 L227.0 283.0 L228.7 283.0 L228.7 283.0 L230.5 283.0 L230.5 316.4 L232.2 316.4 L232.2 277.3 L233.9 277.3 L233.9 299.7 L235.6 299.7 L235.6 277.3 L237.4 277.3 L237.4 291.4 L239.1 291.4 L239.1 277.3 L240.8 277.3 L240.8 285.8 L242.5 285.8 L242.5 285.8 L244.3 285.8 L244.3 268.8 L246.0 268.8 L246.0 294.2 L247.7 294.2 L247.7 280.1 L249.4 280.1 L249.4 274.5 L251.2 274.5 L251.2 268.8 L252.9 268.8 L252.9 277.3 L254.6 277.3 L254.6 285.8 L256.3 285.8 L256.3 263.1 L258.1 263.1 L258.1 277.3 L259.8 277.3 L259.8 257.4 L261.5 257.4 L261.5 237.6 L263.2 237.6 L263.2 263.1 L265.0 263.1 L265.0 251.8 L266.7 251.8 L266.7 251.8 L268.4 251.8 L268.4 277.3 L270.1 277.3 L270.1 283.0 L271.9 283.0 L271.9 251.8 L273.6 251.8 L273.6 251.8 L275.3 251.8 L275.3 280.1 L277.0 280.1 L277.0 266.0 L278.8 266.0 L278.8 288.6 L280.5 288.6 L280.5 288.6 L282.2 288.6 L282.2 260.3 L284.0 260.3 L284.0 274.5 L285.7 274.5 L285.7 285.8 L287.4 285.8 L287.4 285.8 L289.1 285.8 L289.1 310.9 L290.9 310.9 L290.9 288.6 L292.6 288.6 L292.6 280.1 L294.3 280.1 L294.3 283.0 L296.0 283.0 L296.0 310.9 L297.8 310.9 L297.8 319.2 L299.5 319.2 L299.5 296.9 L301.2 296.9 L301.2 308.1 L302.9 308.1 L302.9 310.9 L304.7 310.9 L304.7 322.0 L306.4 322.0 L306.4 299.7 L308.1 299.7 L308.1 310.9 L309.8 310.9 L309.8 313.6 L311.6 313.6 L311.6 316.4 L313.3 316.4 L313.3 310.9 L315.0 310.9 L315.0 333.1 L316.7 333.1 L316.7 335.9 L318.5 335.9 L318.5 341.5 L320.2 341.5 L320.2 324.8 L321.9 324.8 L321.9 324.8 L323.6 324.8 L323.6 327.6 L325.4 327.6 L325.4 338.7 L327.1 338.7 L327.1 347.1 L328.8 347.1 L328.8 344.3 L330.5 344.3 L330.5 350.0 L332.3 350.0 L332.3 344.3 L334.0 344.3 L334.0 350.0 L335.7 350.0 L335.7 350.0 L337.5 350.0 L337.5 358.4 L339.2 358.4 L339.2 366.9 L340.9 366.9 L340.9 355.6 L342.6 355.6 L342.6 372.5 L344.4 372.5 L344.4 375.3 L346.1 375.3 L346.1 375.3 L347.8 375.3 L347.8 375.3 L349.5 375.3 L349.5 369.7 L351.3 369.7 L351.3 375.3 L353.0 375.3 L353.0 381.0 L354.7 381.0 L354.7 372.5 L356.4 372.5 L356.4 372.5 L358.2 372.5 L358.2 381.0 L359.9 381.0 L359.9 383.8 L361.6 383.8 L361.6 383.8 L363.3 383.8 L363.3 389.4 L365.1 389.4 L365.1 383.8 L366.8 383.8 L366.8 386.6 L368.5 386.6 L368.5 392.3 L370.2 392.3 L370.2 389.4 L372.0 389.4 L372.0 395.1 L373.7 395.1 L373.7 392.3 L375.4 392.3 L375.4 392.3 L377.1 392.3 L377.1 392.3 L378.9 392.3 L378.9 395.1 L380.6 395.1 L380.6 392.3 L382.3 392.3 L382.3 395.1 L384.0 395.1 L384.0 392.3 L385.8 392.3 L385.8 395.1 L387.5 395.1 L387.5 397.9 L389.2 397.9 L389.2 395.1 L391.0 395.1 L391.0 395.1 L392.7 395.1 L392.7 392.3 L394.4 392.3 L394.4 395.1 L396.1 395.1 L396.1 397.9 L397.9 397.9 L397.9 397.9 L399.6 397.9 L399.6 397.9 L401.3 397.9 L401.3 397.9 L403.0 397.9 L403.0 397.9 L404.8 397.9 L404.8 397.9 L406.5 397.9 L406.5 397.9 L408.2 397.9 L408.2 397.9 L409.9 397.9 L409.9 395.1 L411.7 395.1 L411.7 397.9 L413.4 397.9 L413.4 397.9 L415.1 397.9 L415.1 397.9 L416.8 397.9 L416.8 397.9 L418.6 397.9 L418.6 397.9 L420.3 397.9 L420.3 397.9 L422.0 397.9 L422.0 397.9 L423.7 397.9 L423.7 397.9 L425.5 397.9 L425.5 397.9 L427.2 397.9 L427.2 397.9 L428.9 397.9 L428.9 397.9 L430.6 397.9 L430.6 397.9 L432.4 397.9 L432.4 397.9 L434.1 397.9 L434.1 397.9 L435.8 397.9 L435.8 397.9 L437.5 397.9 L437.5 397.9 L439.3 397.9 L439.3 397.9 L441.0 397.9 L441.0 397.9 L442.7 397.9 L442.7 397.9 L444.4 397.9 L444.4 397.9 L446.2 397.9 L446.2 397.9 L447.9 397.9 L447.9 397.9 L449.6 397.9 L449.6 397.9 L451.4 397.9 L451.4 397.9 L453.1 397.9 L453.1 397.9 L454.8 397.9 L454.8 397.9 L456.5 397.9 L456.5 397.9 L458.3 397.9 L458.3 397.9 L460.0 397.9 L460.0 397.9 L461.7 397.9 L461.7 397.9 L463.4 397.9 L463.4 397.9 L465.2 397.9 L465.2 397.9 L466.9 397.9 L466.9 397.9 L468.6 397.9 L468.6 397.9 L470.3 397.9 L470.3 397.9 L472.1 397.9 L472.1 397.9 L473.8 397.9 L473.8 397.9 L475.5 397.9 L475.5 397.9 L477.2 397.9 L477.2 397.9 L479.0 397.9 L479.0 397.9 L480.7 397.9 L480.7 397.9 L482.4 397.9 L482.4 397.9 L484.1 397.9 L484.1 397.9 L485.9 397.9 L485.9 397.9 L487.6 397.9 L487.6 397.9 L489.3 397.9 L489.3 397.9 L491.0 397.9 L491.0 397.9 L492.8 397.9 L492.8 397.9 L494.5 397.9 L494.5 397.9 L496.2 397.9 L496.2 397.9 L497.9 397.9 L497.9 397.9 L499.7 397.9 L499.7 397.9 L501.4 397.9 L501.4 398.3" stroke="#e0206c" stroke-width="2"/>
<path d="M59.6 398.3 L59.6 397.9 L61.3 397.9 L61.3 395.1 L63.1 395.1 L63.1 395.1 L64.8 395.1 L64.8 395.1 L66.5 395.1 L66.5 395.1 L68.2 395.1 L68.2 395.1 L70.0 395.1 L70.0 392.3 L71.7 392.3 L71.7 397.9 L73.4 397.9 L73.4 392.3 L75.1 392.3 L75.1 392.3 L76.9 392.3 L76.9 395.1 L78.6 395.1 L78.6 392.3 L80.3 392.3 L80.3 392.3 L82.0 392.3 L82.0 397.9 L83.8 397.9 L83.8 392.3 L85.5 392.3 L85.5 395.1 L87.2 395.1 L87.2 395.1 L88.9 395.1 L88.9 395.1 L90.7 395.1 L90.7 397.9 L92.4 397.9 L92.4 392.3 L94.1 392.3 L94.1 397.9 L95.8 397.9 L95.8 395.1 L97.6 395.1 L97.6 392.3 L99.3 392.3 L99.3 392.3 L101.0 392.3 L101.0 397.9 L102.7 397.9 L102.7 395.1 L104.5 395.1 L104.5 395.1 L106.2 395.1 L106.2 395.1 L107.9 395.1 L107.9 392.3 L109.6 392.3 L109.6 395.1 L111.4 395.1 L111.4 392.3 L113.1 392.3 L113.1 395.1 L114.8 395.1 L114.8 395.1 L116.6 395.1 L116.6 397.9 L118.3 397.9 L118.3 389.4 L120.0 389.4 L120.0 375.3 L121.7 375.3 L121.7 372.5 L123.5 372.5 L123.5 372.5 L125.2 372.5 L125.2 372.5 L126.9 372.5 L126.9 383.8 L128.6 383.8 L128.6 366.9 L130.4 366.9 L130.4 378.2 L132.1 378.2 L132.1 383.8 L133.8 383.8 L133.8 366.9 L135.5 366.9 L135.5 378.2 L137.3 378.2 L137.3 375.3 L139.0 375.3 L139.0 389.4 L140.7 389.4 L140.7 366.9 L142.4 366.9 L142.4 378.2 L144.2 378.2 L144.2 375.3 L145.9 375.3 L145.9 364.1 L147.6 364.1 L147.6 364.1 L149.3 364.1 L149.3 375.3 L151.1 375.3 L151.1 364.1 L152.8 364.1 L152.8 364.1 L154.5 364.1 L154.5 364.1 L156.2 364.1 L156.2 366.9 L158.0 366.9 L158.0 350.0 L159.7 350.0 L159.7 369.7 L161.4 369.7 L161.4 347.1 L163.1 347.1 L163.1 350.0 L164.9 350.0 L164.9 361.2 L166.6 361.2 L166.6 358.4 L168.3 358.4 L168.3 335.9 L170.1 335.9 L170.1 369.7 L171.8 369.7 L171.8 338.7 L173.5 338.7 L173.5 344.3 L175.2 344.3 L175.2 333.1 L177.0 333.1 L177.0 333.1 L178.7 333.1 L178.7 327.6 L180.4 327.6 L180.4 327.6 L182.1 327.6 L182.1 324.8 L183.9 324.8 L183.9 350.0 L185.6 350.0 L185.6 327.6 L187.3 327.6 L187.3 324.8 L189.0 324.8 L189.0 324.8 L190.8 324.8 L190.8 308.1 L192.5 308.1 L192.5 330.4 L194.2 330.4 L194.2 344.3 L195.9 344.3 L195.9 327.6 L197.7 327.6 L197.7 322.0 L199.4 322.0 L199.4 316.4 L201.1 316.4 L201.1 313.6 L202.8 313.6 L202.8 313.6 L204.6 313.6 L204.6 338.7 L206.3 338.7 L206.3 324.8 L208.0 324.8 L208.0 310.9 L209.7 310.9 L209.7 302.5 L211.5 302.5 L211.5 302.5 L213.2 302.5 L213.2 330.4 L214.9 330.4 L214.9 299.7 L216.6 299.7 L216.6 338.7 L218.4 338.7 L218.4 313.6 L220.1 313.6 L220.1 302.5 L221.8 302.5 L221.8 305.3 L223.5 305.3 L223.5 285.8 L225.3 285.8 L225.3 296.9 L227.0 296.9 L227.0 291.4 L228.7 291.4 L228.7 280.1 L230.5 280.1 L230.5 302.5 L232.2 302.5 L232.2 277.3 L233.9 277.3 L233.9 294.2 L235.6 294.2 L235.6 266.0 L237.4 266.0 L237.4 280.1 L239.1 280.1 L239.1 285.8 L240.8 285.8 L240.8 277.3 L242.5 277.3 L242.5 274.5 L244.3 274.5 L244.3 280.1 L246.0 280.1 L246.0 266.0 L247.7 266.0 L247.7 283.0 L249.4 283.0 L249.4 271.6 L251.2 271.6 L251.2 246.1 L252.9 246.1 L252.9 251.8 L254.6 251.8 L254.6 257.4 L256.3 257.4 L256.3 283.0 L258.1 283.0 L258.1 268.8 L259.8 268.8 L259.8 260.3 L261.5 260.3 L261.5 246.1 L263.2 246.1 L263.2 271.6 L265.0 271.6 L265.0 266.0 L266.7 266.0 L266.7 251.8 L268.4 251.8 L268.4 257.4 L270.1 257.4 L270.1 266.0 L271.9 266.0 L271.9 274.5 L273.6 274.5 L273.6 260.3 L275.3 260.3 L275.3 291.4 L277.0 291.4 L277.0 291.4 L278.8 291.4 L278.8 291.4 L280.5 291.4 L280.5 283.0 L282.2 283.0 L282.2 288.6 L284.0 288.6 L284.0 305.3 L285.7 305.3 L285.7 294.2 L287.4 294.2 L287.4 310.9 L289.1 310.9 L289.1 274.5 L290.9 274.5 L290.9 308.1 L292.6 308.1 L292.6 291.4 L294.3 291.4 L294.3 316.4 L296.0 316.4 L296.0 313.6 L297.8 313.6 L297.8 324.8 L299.5 324.8 L299.5 296.9 L301.2 296.9 L301.2 296.9 L302.9 296.9 L302.9 330.4 L304.7 330.4 L304.7 310.9 L306.4 310.9 L306.4 310.9 L308.1 310.9 L308.1 302.5 L309.8 302.5 L309.8 330.4 L311.6 330.4 L311.6 302.5 L313.3 302.5 L313.3 335.9 L315.0 335.9 L315.0 324.8 L316.7 324.8 L316.7 333.1 L318.5 333.1 L318.5 333.1 L320.2 333.1 L320.2 324.8 L321.9 324.8 L321.9 333.1 L323.6 333.1 L323.6 327.6 L325.4 327.6 L325.4 341.5 L327.1 341.5 L327.1 347.1 L328.8 347.1 L328.8 335.9 L330.5 335.9 L330.5 344.3 L332.3 344.3 L332.3 352.8 L334.0 352.8 L334.0 335.9 L335.7 335.9 L335.7 347.1 L337.5 347.1 L337.5 364.1 L339.2 364.1 L339.2 364.1 L340.9 364.1 L340.9 358.4 L342.6 358.4 L342.6 372.5 L344.4 372.5 L344.4 364.1 L346.1 364.1 L346.1 375.3 L347.8 375.3 L347.8 372.5 L349.5 372.5 L349.5 375.3 L351.3 375.3 L351.3 383.8 L353.0 383.8 L353.0 381.0 L354.7 381.0 L354.7 386.6 L356.4 386.6 L356.4 386.6 L358.2 386.6 L358.2 381.0 L359.9 381.0 L359.9 383.8 L361.6 383.8 L361.6 389.4 L363.3 389.4 L363.3 386.6 L365.1 386.6 L365.1 383.8 L366.8 383.8 L366.8 389.4 L368.5 389.4 L368.5 392.3 L370.2 392.3 L370.2 389.4 L372.0 389.4 L372.0 395.1 L373.7 395.1 L373.7 395.1 L375.4 395.1 L375.4 389.4 L377.1 389.4 L377.1 395.1 L378.9 395.1 L378.9 395.1 L380.6 395.1 L380.6 395.1 L382.3 395.1 L382.3 395.1 L384.0 395.1 L384.0 392.3 L385.8 392.3 L385.8 392.3 L387.5 392.3 L387.5 395.1 L389.2 395.1 L389.2 397.9 L391.0 397.9 L391.0 395.1 L392.7 395.1 L392.7 397.9 L394.4 397.9 L394.4 397.9 L396.1 397.9 L396.1 397.9 L397.9 397.9 L397.9 397.9 L399.6 397.9 L399.6 397.9 L401.3 397.9 L401.3 397.9 L403.0 397.9 L403.0 397.9 L404.8 397.9 L404.8 397.9 L406.5 397.9 L406.5 397.9 L408.2 397.9 L408.2 397.9 L409.9 397.9 L409.9 397.9 L411.7 397.9 L411.7 397.9 L413.4 397.9 L413.4 397.9 L415.1 397.9 L415.1 397.9 L416.8 397.9 L416.8 397.9 L418.6 397.9 L418.6 397.9 L420.3 397.9 L420.3 397.9 L422.0 397.9 L422.0 397.9 L423.7 397.9 L423.7 397.9 L425.5 397.9 L425.5 397.9 L427.2 397.9 L427.2 397.9 L428.9 397.9 L428.9 397.9 L430.6 397.9 L430.6 397.9 L432.4 397.9 L432.4 397.9 L434.1 397.9 L434.1 397.9 L435.8 397.9 L435.8 397.9 L437.5 397.9 L437.5 397.9 L439.3 397.9 L439.3 397.9 L441.0 397.9 L441.0 397.9 L442.7 397.9 L442.7 397.9 L444.4 397.9 L444.4 397.9 L446.2 397.9 L446.2 397.9 L447.9 397.9 L447.9 397.9 L449.6 397.9 L449.6 397.9 L451.4 397.9 L451.4 397.9 L453.1 397.9 L453.1 397.9 L454.8 397.9 L454.8 397.9 L456.5 397.9 L456.5 397.9 L458.3 397.9 L458.3 397.9 L460.0 397.9 L460.0 397.9 L461.7 397.9 L461.7 397.9 L463.4 397.9 L463.4 397.9 L465.2 397.9 L465.2 397.9 L466.9 397.9 L466.9 397.9 L468.6 397.9 L468.6 397.9 L470.3 397.9 L470.3 397.9 L472.1 397.9 L472.1 397.9 L473.8 397.9 L473.8 397.9 L475.5 397.9 L475.5 397.9 L477.2 397.9 L477.2 397.9 L479.0 397.9 L479.0 397.9 L480.7 397.9 L480.7 397.9 L482.4 397.9 L482.4 397.9 L484.1 397.9 L484.1 397.9 L485.9 397.9 L485.9 397.9 L487.6 397.9 L487.6 397.9 L489.3 397.9 L489.3 397.9 L491.0 397.9 L491.0 397.9 L492.8 397.9 L492.8 397.9 L494.5 397.9 L494.5 397.9 L496.2 397.9 L496.2 397.9 L497.9 397.9 L497.9 397.9 L499.7 397.9 L499.7 397.9 L501.4 397.9 L501.4 398.3" stroke="#e02626" stroke-width="2"/>
<path d="M59.6 398.3 L59.6 397.9 L61.3 397.9 L61.3 395.1 L63.1 395.1 L63.1 397.9 L64.8 397.9 L64.8 395.1 L66.5 395.1 L66.5 395.1 L68.2 395.1 L68.2 397.9 L70.0 397.9 L70.0 395.1 L71.7 395.1 L71.7 395.1 L73.4 395.1 L73.4 395.1 L75.1 395.1 L75.1 392.3 L76.9 392.3 L76.9 397.9 L78.6 397.9 L78.6 395.1 L80.3 395.1 L80.3 395.1 L82.0 395.1 L82.0 395.1 L83.8 395.1 L83.8 397.9 L85.5 397.9 L85.5 395.1 L87.2 395.1 L87.2 395.1 L88.9 395.1 L88.9 395.1 L90.7 395.1 L90.7 397.9 L92.4 397.9 L92.4 397.9 L94.1 397.9 L94.1 397.9 L95.8 397.9 L95.8 397.9 L97.6 397.9 L97.6 395.1 L99.3 395.1 L99.3 397.9 L101.0 397.9 L101.0 392.3 L102.7 392.3 L102.7 392.3 L104.5 392.3 L104.5 397.9 L106.2 397.9 L106.2 395.1 L107.9 395.1 L107.9 395.1 L109.6 395.1 L109.6 395.1 L111.4 395.1 L111.4 397.9 L113.1 397.9 L113.1 397.9 L114.8 397.9 L114.8 397.9 L116.6 397.9 L116.6 397.9 L118.3 397.9 L118.3 395.1 L120.0 395.1 L120.0 395.1 L121.7 395.1 L121.7 397.9 L123.5 397.9 L123.5 395.1 L125.2 395.1 L125.2 397.9 L126.9 397.9 L126.9 395.1 L128.6 395.1 L128.6 395.1 L130.4 395.1 L130.4 395.1 L132.1 395.1 L132.1 392.3 L133.8 392.3 L133.8 392.3 L135.5 392.3 L135.5 389.4 L137.3 389.4 L137.3 392.3 L139.0 392.3 L139.0 389.4 L140.7 389.4 L140.7 386.6 L142.4 386.6 L142.4 389.4 L144.2 389.4 L144.2 386.6 L145.9 386.6 L145.9 386.6 L147.6 386.6 L147.6 386.6 L149.3 386.6 L149.3 381.0 L151.1 381.0 L151.1 378.2 L152.8 378.2 L152.8 378.2 L154.5 378.2 L154.5 378.2 L156.2 378.2 L156.2 372.5 L158.0 372.5 L158.0 378.2 L159.7 378.2 L159.7 375.3 L161.4 375.3 L161.4 369.7 L163.1 369.7 L163.1 369.7 L164.9 369.7 L164.9 372.5 L166.6 372.5 L166.6 364.1 L168.3 364.1 L168.3 364.1 L170.1 364.1 L170.1 364.1 L171.8 364.1 L171.8 369.7 L173.5 369.7 L173.5 366.9 L175.2 366.9 L175.2 355.6 L177.0 355.6 L177.0 358.4 L178.7 358.4 L178.7 358.4 L180.4 358.4 L180.4 352.8 L182.1 352.8 L182.1 361.2 L183.9 361.2 L183.9 350.0 L185.6 350.0 L185.6 352.8 L187.3 352.8 L187.3 338.7 L189.0 338.7 L189.0 350.0 L190.8 350.0 L190.8 352.8 L192.5 352.8 L192.5 355.6 L194.2 355.6 L194.2 335.9 L195.9 335.9 L195.9 352.8 L197.7 352.8 L197.7 319.2 L199.4 319.2 L199.4 341.5 L201.1 341.5 L201.1 333.1 L202.8 333.1 L202.8 350.0 L204.6 350.0 L204.6 347.1 L206.3 347.1 L206.3 310.9 L208.0 310.9 L208.0 333.1 L209.7 333.1 L209.7 324.8 L211.5 324.8 L211.5 341.5 L213.2 341.5 L213.2 341.5 L214.9 341.5 L214.9 338.7 L216.6 338.7 L216.6 310.9 L218.4 310.9 L218.4 308.1 L220.1 308.1 L220.1 333.1 L221.8 333.1 L221.8 324.8 L223.5 324.8 L223.5 313.6 L225.3 313.6 L225.3 324.8 L227.0 324.8 L227.0 308.1 L228.7 308.1 L228.7 296.9 L230.5 296.9 L230.5 291.4 L232.2 291.4 L232.2 302.5 L233.9 302.5 L233.9 308.1 L235.6 308.1 L235.6 296.9 L237.4 296.9 L237.4 302.5 L239.1 302.5 L239.1 305.3 L240.8 305.3 L240.8 296.9 L242.5 296.9 L242.5 294.2 L244.3 294.2 L244.3 266.0 L246.0 266.0 L246.0 291.4 L247.7 291.4 L247.7 283.0 L249.4 283.0 L249.4 283.0 L251.2 283.0 L251.2 288.6 L252.9 288.6 L252.9 274.5 L254.6 274.5 L254.6 285.8 L256.3 285.8 L256.3 280.1 L258.1 280.1 L258.1 271.6 L259.8 271.6 L259.8 266.0 L261.5 266.0 L261.5 257.4 L263.2 257.4 L263.2 260.3 L265.0 260.3 L265.0 277.3 L266.7 277.3 L266.7 248.9 L268.4 248.9 L268.4 274.5 L270.1 274.5 L270.1 251.8 L271.9 251.8 L271.9 251.8 L273.6 251.8 L273.6 285.8 L275.3 285.8 L275.3 280.1 L277.0 280.1 L277.0 271.6 L278.8 271.6 L278.8 251.8 L280.5 251.8 L280.5 274.5 L282.2 274.5 L282.2 294.2 L284.0 294.2 L284.0 288.6 L285.7 288.6 L285.7 294.2 L287.4 294.2 L287.4 296.9 L289.1 296.9 L289.1 288.6 L290.9 288.6 L290.9 288.6 L292.6 288.6 L292.6 296.9 L294.3 296.9 L294.3 319.2 L296.0 319.2 L296.0 322.0 L297.8 322.0 L297.8 313.6 L299.5 313.6 L299.5 313.6 L301.2 313.6 L301.2 324.8 L302.9 324.8 L302.9 305.3 L304.7 305.3 L304.7 327.6 L306.4 327.6 L306.4 327.6 L308.1 327.6 L308.1 333.1 L309.8 333.1 L309.8 319.2 L311.6 319.2 L311.6 335.9 L313.3 335.9 L313.3 319.2 L315.0 319.2 L315.0 324.8 L316.7 324.8 L316.7 322.0 L318.5 322.0 L318.5 333.1 L320.2 333.1 L320.2 335.9 L321.9 335.9 L321.9 341.5 L323.6 341.5 L323.6 335.9 L325.4 335.9 L325.4 333.1 L327.1 333.1 L327.1 327.6 L328.8 327.6 L328.8 344.3 L330.5 344.3 L330.5 355.6 L332.3 355.6 L332.3 355.6 L334.0 355.6 L334.0 347.1 L335.7 347.1 L335.7 355.6 L337.5 355.6 L337.5 364.1 L339.2 364.1 L339.2 358.4 L340.9 358.4 L340.9 355.6 L342.6 355.6 L342.6 372.5 L344.4 372.5 L344.4 369.7 L346.1 369.7 L346.1 375.3 L347.8 375.3 L347.8 378.2 L349.5 378.2 L349.5 381.0 L351.3 381.0 L351.3 383.8 L353.0 383.8 L353.0 386.6 L354.7 386.6 L354.7 383.8 L356.4 383.8 L356.4 389.4 L358.2 389.4 L358.2 389.4 L359.9 389.4 L359.9 381.0 L361.6 381.0 L361.6 392.3 L363.3 392.3 L363.3 383.8 L365.1 383.8 L365.1 392.3 L366.8 392.3 L366.8 392.3 L368.5 392.3 L368.5 392.3 L370.2 392.3 L370.2 389.4 L372.0 389.4 L372.0 392.3 L373.7 392.3 L373.7 392.3 L375.4 392.3 L375.4 392.3 L377.1 392.3 L377.1 389.4 L378.9 389.4 L378.9 395.1 L380.6 395.1 L380.6 395.1 L382.3 395.1 L382.3 397.9 L384.0 397.9 L384.0 397.9 L385.8 397.9 L385.8 395.1 L387.5 395.1 L387.5 395.1 L389.2 395.1 L389.2 397.9 L391.0 397.9 L391.0 395.1 L392.7 395.1 L392.7 397.9 L394.4 397.9 L394.4 395.1 L396.1 395.1 L396.1 397.9 L397.9 397.9 L397.9 397.9 L399.6 397.9 L399.6 397.9 L401.3 397.9 L401.3 397.9 L403.0 397.9 L403.0 395.1 L404.8 395.1 L404.8 397.9 L406.5 397.9 L406.5 397.9 L408.2 397.9 L408.2 397.9 L409.9 397.9 L409.9 397.9 L411.7 397.9 L411.7 397.9 L413.4 397.9 L413.4 397.9 L415.1 397.9 L415.1 397.9 L416.8 397.9 L416.8 397.9 L418.6 397.9 L418.6 397.9 L420.3 397.9 L420.3 397.9 L422.0 397.9 L422.0 397.9 L423.7 397.9 L423.7 397.9 L425.5 397.9 L425.5 392.3 L427.2 392.3 L427.2 392.3 L428.9 392.3 L428.9 397.9 L430.6 397.9 L430.6 397.9 L432.4 397.9 L432.4 397.9 L434.1 397.9 L434.1 397.9 L435.8 397.9 L435.8 397.9 L437.5 397.9 L437.5 397.9 L439.3 397.9 L439.3 397.9 L441.0 397.9 L441.0 397.9 L442.7 397.9 L442.7 397.9 L444.4 397.9 L444.4 392.3 L446.2 392.3 L446.2 392.3 L447.9 392.3 L447.9 397.9 L449.6 397.9 L449.6 397.9 L451.4 397.9 L451.4 397.9 L453.1 397.9 L453.1 397.9 L454.8 397.9 L454.8 392.3 L456.5 392.3 L456.5 392.3 L458.3 392.3 L458.3 397.9 L460.0 397.9 L460.0 397.9 L461.7 397.9 L461.7 397.9 L463.4 397.9 L463.4 397.9 L465.2 397.9 L465.2 397.9 L466.9 397.9 L466.9 397.9 L468.6 397.9 L468.6 397.9 L470.3 397.9 L470.3 397.9 L472.1 397.9 L472.1 397.9 L473.8 397.9 L473.8 397.9 L475.5 397.9 L475.5 397.9 L477.2 397.9 L477.2 397.9 L479.0 397.9 L479.0 397.9 L480.7 397.9 L480.7 397.9 L482.4 397.9 L482.4 397.9 L484.1 397.9 L484.1 397.9 L485.9 397.9 L485.9 397.9 L487.6 397.9 L487.6 397.9 L489.3 397.9 L489.3 397.9 L491.0 397.9 L491.0 397.9 L492.8 397.9 L492.8 397.9 L494.5 397.9 L494.5 397.9 L496.2 397.9 L496.2 397.9 L497.9 397.9 L497.9 397.9 L499.7 397.9 L499.7 397.9 L501.4 397.9 L501.4 398.3" stroke="#f58428" stroke-width="2"/>
<path d="M59.6 398.3 L59.6 397.9 L61.3 397.9 L61.3 397.9 L63.1 397.9 L63.1 397.9 L64.8 397.9 L64.8 395.6 L66.5 395.6 L66.5 395.6 L68.2 395.6 L68.2 391.1 L70.0 391.1 L70.0 384.8 L71.7 384.8 L71.7 382.4 L73.4 382.4 L73.4 375.8 L75.1 375.8 L75.1 371.9 L76.9 371.9 L76.9 369.0 L78.6 369.0 L78.6 364.2 L80.3 364.2 L80.3 359.0 L82.0 359.0 L82.0 355.6 L83.8 355.6 L83.8 351.2 L85.5 351.2 L85.5 346.8 L87.2 346.8 L87.2 337.0 L88.9 337.0 L88.9 330.1 L90.7 330.1 L90.7 319.9 L92.4 319.9 L92.4 313.4 L94.1 313.4 L94.1 296.0 L95.8 296.0 L95.8 279.7 L97.6 279.7 L97.6 253.3 L99.3 253.3 L99.3 220.8 L101.0 220.8 L101.0 197.8 L102.7 197.8 L102.7 181.6 L104.5 181.6 L104.5 156.7 L106.2 156.7 L106.2 139.1 L107.9 139.1 L107.9 114.5 L109.6 114.5 L109.6 114.5 L111.4 114.5 L111.4 114.5 L113.1 114.5 L113.1 114.5 L114.8 114.5 L114.8 114.5 L116.6 114.5 L116.6 114.5 L118.3 114.5 L118.3 114.5 L120.0 114.5 L120.0 114.5 L121.7 114.5 L121.7 114.5 L123.5 114.5 L123.5 114.5 L125.2 114.5 L125.2 114.5 L126.9 114.5 L126.9 120.0 L128.6 120.0 L128.6 123.3 L130.4 123.3 L130.4 133.8 L132.1 133.8 L132.1 143.7 L133.8 143.7 L133.8 162.1 L135.5 162.1 L135.5 181.4 L137.3 181.4 L137.3 193.7 L139.0 193.7 L139.0 202.3 L140.7 202.3 L140.7 233.4 L142.4 233.4 L142.4 280.6 L144.2 280.6 L144.2 295.0 L145.9 295.0 L145.9 304.8 L147.6 304.8 L147.6 324.8 L149.3 324.8 L149.3 337.4 L151.1 337.4 L151.1 345.8 L152.8 345.8 L152.8 353.7 L154.5 353.7 L154.5 360.2 L156.2 360.2 L156.2 367.8 L158.0 367.8 L158.0 370.5 L159.7 370.5 L159.7 375.7 L161.4 375.7 L161.4 379.2 L163.1 379.2 L163.1 384.1 L164.9 384.1 L164.9 387.2 L166.6 387.2 L166.6 387.9 L168.3 387.9 L168.3 388.4 L170.1 388.4 L170.1 390.7 L171.8 390.7 L171.8 391.6 L173.5 391.6 L173.5 391.8 L175.2 391.8 L175.2 391.8 L177.0 391.8 L177.0 391.5 L178.7 391.5 L178.7 392.0 L180.4 392.0 L180.4 390.6 L182.1 390.6 L182.1 391.6 L183.9 391.6 L183.9 391.4 L185.6 391.4 L185.6 390.8 L187.3 390.8 L187.3 390.8 L189.0 390.8 L189.0 391.7 L190.8 391.7 L190.8 391.5 L192.5 391.5 L192.5 391.5 L194.2 391.5 L194.2 392.2 L195.9 392.2 L195.9 393.2 L197.7 393.2 L197.7 392.3 L199.4 392.3 L199.4 393.3 L201.1 393.3 L201.1 397.9 L202.8 397.9 L202.8 393.9 L204.6 393.9 L204.6 392.3 L206.3 392.3 L206.3 393.1 L208.0 393.1 L208.0 397.9 L209.7 397.9 L209.7 397.9 L211.5 397.9 L211.5 397.9 L213.2 397.9 L213.2 392.3 L214.9 392.3 L214.9 392.3 L216.6 392.3 L216.6 392.3 L218.4 392.3 L218.4 393.1 L220.1 393.1 L220.1 397.9 L221.8 397.9 L221.8 397.9 L223.5 397.9 L223.5 397.9 L225.3 397.9 L225.3 397.9 L227.0 397.9 L227.0 397.9 L228.7 397.9 L228.7 397.9 L230.5 397.9 L230.5 397.9 L232.2 397.9 L232.2 397.9 L233.9 397.9 L233.9 397.9 L235.6 397.9 L235.6 397.9 L237.4 397.9 L237.4 397.9 L239.1 397.9 L239.1 397.9 L240.8 397.9 L240.8 397.9 L242.5 397.9 L242.5 397.9 L244.3 397.9 L244.3 397.9 L246.0 397.9 L246.0 397.9 L247.7 397.9 L247.7 397.9 L249.4 397.9 L249.4 397.9 L251.2 397.9 L251.2 397.9 L252.9 397.9 L252.9 397.9 L254.6 397.9 L254.6 397.9 L256.3 397.9 L256.3 397.9 L258.1 397.9 L258.1 397.9 L259.8 397.9 L259.8 397.9 L261.5 397.9 L261.5 397.9 L263.2 397.9 L263.2 397.9 L265.0 397.9 L265.0 397.9 L266.7 397.9 L266.7 392.3 L268.4 392.3 L268.4 392.3 L270.1 392.3 L270.1 397.9 L271.9 397.9 L271.9 397.9 L273.6 397.9 L273.6 397.9 L275.3 397.9 L275.3 397.9 L277.0 397.9 L277.0 397.9 L278.8 397.9 L278.8 397.9 L280.5 397.9 L280.5 397.9 L282.2 397.9 L282.2 397.9 L284.0 397.9 L284.0 397.9 L285.7 397.9 L285.7 397.9 L287.4 397.9 L287.4 397.9 L289.1 397.9 L289.1 397.9 L290.9 397.9 L290.9 397.9 L292.6 397.9 L292.6 397.9 L294.3 397.9 L294.3 397.9 L296.0 397.9 L296.0 397.9 L297.8 397.9 L297.8 397.9 L299.5 397.9 L299.5 397.9 L301.2 397.9 L301.2 397.9 L302.9 397.9 L302.9 397.9 L304.7 397.9 L304.7 397.9 L306.4 397.9 L306.4 397.9 L308.1 397.9 L308.1 397.9 L309.8 397.9 L309.8 397.9 L311.6 397.9 L311.6 397.9 L313.3 397.9 L313.3 397.9 L315.0 397.9 L315.0 397.9 L316.7 397.9 L316.7 397.9 L318.5 397.9 L318.5 397.9 L320.2 397.9 L320.2 397.9 L321.9 397.9 L321.9 397.9 L323.6 397.9 L323.6 397.9 L325.4 397.9 L325.4 397.9 L327.1 397.9 L327.1 397.9 L328.8 397.9 L328.8 397.9 L330.5 397.9 L330.5 397.9 L332.3 397.9 L332.3 397.9 L334.0 397.9 L334.0 397.9 L335.7 397.9 L335.7 397.9 L337.5 397.9 L337.5 397.9 L339.2 397.9 L339.2 397.9 L340.9 397.9 L340.9 397.9 L342.6 397.9 L342.6 397.9 L344.4 397.9 L344.4 397.9 L346.1 397.9 L346.1 397.9 L347.8 397.9 L347.8 397.9 L349.5 397.9 L349.5 397.9 L351.3 397.9 L351.3 397.9 L353.0 397.9 L353.0 397.9 L354.7 397.9 L354.7 397.9 L356.4 397.9 L356.4 397.9 L358.2 397.9 L358.2 397.9 L359.9 397.9 L359.9 397.9 L361.6 397.9 L361.6 397.9 L363.3 397.9 L363.3 397.9 L365.1 397.9 L365.1 397.9 L366.8 397.9 L366.8 397.9 L368.5 397.9 L368.5 397.9 L370.2 397.9 L370.2 397.9 L372.0 397.9 L372.0 397.9 L373.7 397.9 L373.7 397.9 L375.4 397.9 L375.4 397.9 L377.1 397.9 L377.1 397.9 L378.9 397.9 L378.9 397.9 L380.6 397.9 L380.6 397.9 L382.3 397.9 L382.3 397.9 L384.0 397.9 L384.0 397.9 L385.8 397.9 L385.8 397.9 L387.5 397.9 L387.5 397.9 L389.2 397.9 L389.2 397.9 L391.0 397.9 L391.0 397.9 L392.7 397.9 L392.7 397.9 L394.4 397.9 L394.4 397.9 L396.1 397.9 L396.1 397.9 L397.9 397.9 L397.9 397.9 L399.6 397.9 L399.6 397.9 L401.3 397.9 L401.3 397.9 L403.0 397.9 L403.0 397.9 L404.8 397.9 L404.8 397.9 L406.5 397.9 L406.5 397.9 L408.2 397.9 L408.2 397.9 L409.9 397.9 L409.9 397.9 L411.7 397.9 L411.7 397.9 L413.4 397.9 L413.4 397.9 L415.1 397.9 L415.1 397.9 L416.8 397.9 L416.8 397.9 L418.6 397.9 L418.6 397.9 L420.3 397.9 L420.3 397.9 L422.0 397.9 L422.0 397.9 L423.7 397.9 L423.7 397.9 L425.5 397.9 L425.5 397.9 L427.2 397.9 L427.2 397.9 L428.9 397.9 L428.9 397.9 L430.6 397.9 L430.6 397.9 L432.4 397.9 L432.4 397.9 L434.1 397.9 L434.1 397.9 L435.8 397.9 L435.8 397.9 L437.5 397.9 L437.5 397.9 L439.3 397.9 L439.3 397.9 L441.0 397.9 L441.0 397.9 L442.7 397.9 L442.7 397.9 L444.4 397.9 L444.4 397.9 L446.2 397.9 L446.2 397.9 L447.9 397.9 L447.9 397.9 L449.6 397.9 L449.6 397.9 L451.4 397.9 L451.4 397.9 L453.1 397.9 L453.1 397.9 L454.8 397.9 L454.8 397.9 L456.5 397.9 L456.5 397.9 L458.3 397.9 L458.3 397.9 L460.0 397.9 L460.0 397.9 L461.7 397.9 L461.7 397.9 L463.4 397.9 L463.4 397.9 L465.2 397.9 L465.2 397.9 L466.9 397.9 L466.9 397.9 L468.6 397.9 L468.6 397.9 L470.3 397.9 L470.3 397.9 L472.1 397.9 L472.1 397.9 L473.8 397.9 L473.8 397.9 L475.5 397.9 L475.5 397.9 L477.2 397.9 L477.2 397.9 L479.0 397.9 L479.0 397.9 L480.7 397.9 L480.7 397.9 L482.4 397.9 L482.4 397.9 L484.1 397.9 L484.1 397.9 L485.9 397.9 L485.9 397.9 L487.6 397.9 L487.6 397.9 L489.3 397.9 L489.3 397.9 L491.0 397.9 L491.0 397.9 L492.8 397.9 L492.8 397.9 L494.5 397.9 L494.5 397.9 L496.2 397.9 L496.2 397.9 L497.9 397.9 L497.9 397.9 L499.7 397.9 L499.7 397.9 L501.4 397.9 L501.4 398.3" stroke="#000" stroke-width="2.4"/>
<path d="M62.8 397 V378 M65.8 397 V363.5" stroke="#000" stroke-width="2"/>
</g>
<g stroke="#000" fill="none" stroke-linecap="butt">
<line x1="56.2" y1="113.6" x2="502.5" y2="113.6" stroke-width="2.2"/>
<line x1="501.2" y1="112.5" x2="501.2" y2="400" stroke-width="2.5"/>
<line x1="57.5" y1="112.5" x2="57.5" y2="400" stroke-width="2.6"/>
<line x1="56.2" y1="398.2" x2="502.4" y2="398.2" stroke-width="4"/>
<line x1="47.5" y1="397.9" x2="58" y2="397.9" stroke-width="2.1"/>
<line x1="52" y1="387.4" x2="58" y2="387.4" stroke-width="1.9"/>
<line x1="52" y1="376.9" x2="58" y2="376.9" stroke-width="1.9"/>
<line x1="52" y1="366.4" x2="58" y2="366.4" stroke-width="1.9"/>
<line x1="52" y1="355.7" x2="58" y2="355.7" stroke-width="1.9"/>
<line x1="47.5" y1="341.5" x2="58" y2="341.5" stroke-width="2.1"/>
<line x1="52" y1="331.2" x2="58" y2="331.2" stroke-width="1.9"/>
<line x1="52" y1="320.7" x2="58" y2="320.7" stroke-width="1.9"/>
<line x1="52" y1="310.4" x2="58" y2="310.4" stroke-width="1.9"/>
<line x1="52" y1="299.9" x2="58" y2="299.9" stroke-width="1.9"/>
<line x1="47.5" y1="285.8" x2="58" y2="285.8" stroke-width="2.1"/>
<line x1="52" y1="275.3" x2="58" y2="275.3" stroke-width="1.9"/>
<line x1="52" y1="264.7" x2="58" y2="264.7" stroke-width="1.9"/>
<line x1="52" y1="254.1" x2="58" y2="254.1" stroke-width="1.9"/>
<line x1="52" y1="243.4" x2="58" y2="243.4" stroke-width="1.9"/>
<line x1="47.5" y1="229.1" x2="58" y2="229.1" stroke-width="2.1"/>
<line x1="52" y1="218.4" x2="58" y2="218.4" stroke-width="1.9"/>
<line x1="52" y1="207.6" x2="58" y2="207.6" stroke-width="1.9"/>
<line x1="52" y1="196.9" x2="58" y2="196.9" stroke-width="1.9"/>
<line x1="52" y1="186.0" x2="58" y2="186.0" stroke-width="1.9"/>
<line x1="47.5" y1="171.4" x2="58" y2="171.4" stroke-width="2.1"/>
<line x1="52" y1="160.8" x2="58" y2="160.8" stroke-width="1.9"/>
<line x1="52" y1="150.2" x2="58" y2="150.2" stroke-width="1.9"/>
<line x1="52" y1="139.6" x2="58" y2="139.6" stroke-width="1.9"/>
<line x1="52" y1="128.9" x2="58" y2="128.9" stroke-width="1.9"/>
<line x1="47.5" y1="114.5" x2="58" y2="114.5" stroke-width="2.1"/>
<line x1="59.6" y1="398" x2="59.6" y2="409" stroke-width="2.2"/>
<line x1="92.8" y1="398" x2="92.8" y2="404.3" stroke-width="1.8"/>
<line x1="112.3" y1="398" x2="112.3" y2="404.3" stroke-width="1.8"/>
<line x1="126.1" y1="398" x2="126.1" y2="404.3" stroke-width="1.8"/>
<line x1="136.8" y1="398" x2="136.8" y2="404.3" stroke-width="1.8"/>
<line x1="145.5" y1="398" x2="145.5" y2="404.3" stroke-width="1.8"/>
<line x1="152.9" y1="398" x2="152.9" y2="404.3" stroke-width="1.8"/>
<line x1="159.3" y1="398" x2="159.3" y2="404.3" stroke-width="1.8"/>
<line x1="165.0" y1="398" x2="165.0" y2="404.3" stroke-width="1.8"/>
<line x1="170.1" y1="398" x2="170.1" y2="409" stroke-width="2.2"/>
<line x1="203.3" y1="398" x2="203.3" y2="404.3" stroke-width="1.8"/>
<line x1="222.7" y1="398" x2="222.7" y2="404.3" stroke-width="1.8"/>
<line x1="236.5" y1="398" x2="236.5" y2="404.3" stroke-width="1.8"/>
<line x1="247.3" y1="398" x2="247.3" y2="404.3" stroke-width="1.8"/>
<line x1="256.0" y1="398" x2="256.0" y2="404.3" stroke-width="1.8"/>
<line x1="263.4" y1="398" x2="263.4" y2="404.3" stroke-width="1.8"/>
<line x1="269.8" y1="398" x2="269.8" y2="404.3" stroke-width="1.8"/>
<line x1="275.4" y1="398" x2="275.4" y2="404.3" stroke-width="1.8"/>
<line x1="280.5" y1="398" x2="280.5" y2="409" stroke-width="2.2"/>
<line x1="313.7" y1="398" x2="313.7" y2="404.3" stroke-width="1.8"/>
<line x1="333.2" y1="398" x2="333.2" y2="404.3" stroke-width="1.8"/>
<line x1="347.0" y1="398" x2="347.0" y2="404.3" stroke-width="1.8"/>
<line x1="357.7" y1="398" x2="357.7" y2="404.3" stroke-width="1.8"/>
<line x1="366.4" y1="398" x2="366.4" y2="404.3" stroke-width="1.8"/>
<line x1="373.8" y1="398" x2="373.8" y2="404.3" stroke-width="1.8"/>
<line x1="380.2" y1="398" x2="380.2" y2="404.3" stroke-width="1.8"/>
<line x1="385.9" y1="398" x2="385.9" y2="404.3" stroke-width="1.8"/>
<line x1="391.0" y1="398" x2="391.0" y2="409" stroke-width="2.2"/>
<line x1="424.2" y1="398" x2="424.2" y2="404.3" stroke-width="1.8"/>
<line x1="443.6" y1="398" x2="443.6" y2="404.3" stroke-width="1.8"/>
<line x1="457.4" y1="398" x2="457.4" y2="404.3" stroke-width="1.8"/>
<line x1="468.2" y1="398" x2="468.2" y2="404.3" stroke-width="1.8"/>
<line x1="476.9" y1="398" x2="476.9" y2="404.3" stroke-width="1.8"/>
<line x1="484.3" y1="398" x2="484.3" y2="404.3" stroke-width="1.8"/>
<line x1="490.7" y1="398" x2="490.7" y2="404.3" stroke-width="1.8"/>
<line x1="496.3" y1="398" x2="496.3" y2="404.3" stroke-width="1.8"/>
<line x1="501.4" y1="398" x2="501.4" y2="409" stroke-width="2.2"/>
</g>
<g fill="#000" filter="url(#idf)">
<g stroke="#000" stroke-width="0.25">
<text transform="translate(41,109.9) rotate(-90)" text-anchor="middle" font-size="17.8">100</text>
<text transform="translate(41,168.9) rotate(-90)" text-anchor="middle" font-size="17.8">80</text>
<text transform="translate(41,226.4) rotate(-90)" text-anchor="middle" font-size="17.8">60</text>
<text transform="translate(41,282.6) rotate(-90)" text-anchor="middle" font-size="17.8">40</text>
<text transform="translate(41,339.7) rotate(-90)" text-anchor="middle" font-size="17.8">20</text>
<text transform="translate(41,394.2) rotate(-90)" text-anchor="middle" font-size="17.8">0</text>
<text transform="translate(19.0,258) rotate(-90)" text-anchor="middle" font-size="18.6">Counts</text>
<text x="45.6" y="431" font-size="17.6">10</text>
<text x="65.4" y="422.2" font-size="18.2">0</text>
<text x="153.8" y="431" font-size="17.6">10</text>
<text x="173.6" y="422.2" font-size="18.2">1</text>
<text x="264.2" y="431" font-size="17.6">10</text>
<text x="284.0" y="422.2" font-size="18.2">2</text>
<text x="374.5" y="431" font-size="17.6">10</text>
<text x="394.3" y="422.2" font-size="18.2">3</text>
<text x="484.7" y="431" font-size="17.6">10</text>
<text x="504.5" y="422.2" font-size="18.2">4</text>
</g>
<text x="172.2" y="469.2" textLength="122.4" lengthAdjust="spacingAndGlyphs" fill="#000" stroke="#000" stroke-width="0.25" font-size="22.0" font-weight="normal">Fluorescent</text>
<text x="309.0" y="469.2" textLength="85.6" lengthAdjust="spacingAndGlyphs" fill="#000" stroke="#000" stroke-width="0.25" font-size="22.0" font-weight="normal">Intensity</text>
<g font-weight="bold" font-size="29.5" stroke="#000" stroke-width="0.4">
<text x="234.0" y="26.6">t</text><text x="251.9" y="26.6">i</text><text x="268.9" y="26.6">e</text>
</g>
<rect x="233.3" y="29.9" width="53.6" height="2.2" fill="#000"/>
<text x="312.6" y="163.8" textLength="54.2" lengthAdjust="spacingAndGlyphs" fill="#000" stroke="#000" stroke-width="0.45" font-size="22.2" font-weight="bold">UT-7</text>
<text x="391.4" y="163.8" textLength="59.2" lengthAdjust="spacingAndGlyphs" fill="#000" stroke="#000" stroke-width="0.45" font-size="22.2" font-weight="bold">Cells</text>
<text x="344.2" y="206.6" textLength="40.2" lengthAdjust="spacingAndGlyphs" fill="#000" stroke="#000" stroke-width="0.45" font-size="22.2" font-weight="bold">IgG</text>
<text x="401.0" y="206.6" textLength="85.4" lengthAdjust="spacingAndGlyphs" fill="#000" stroke="#000" stroke-width="0.45" font-size="22.2" font-weight="bold">Control</text>
<text x="358.4" y="234.4" textLength="120.0" lengthAdjust="spacingAndGlyphs" fill="url(#tBlue)" stroke="url(#tBlue)" stroke-width="0.45" font-size="22.2" font-weight="bold">Untreated</text>
<text x="388.8" y="262.8" textLength="54.2" lengthAdjust="spacing" fill="url(#tRed)" stroke="url(#tRed)" stroke-width="0.45" font-size="22.2" font-weight="bold">PMA</text>
<text x="384.8" y="290.4" textLength="46.8" lengthAdjust="spacingAndGlyphs" fill="url(#tGreen)" stroke="url(#tGreen)" stroke-width="0.45" font-size="22.2" font-weight="bold">TNF</text>
<text x="431.6" y="290.6" textLength="14.8" lengthAdjust="spacingAndGlyphs" fill="url(#tGreen)" stroke="url(#tGreen)" stroke-width="0.20" font-size="27.5" font-weight="normal">α</text>
<text x="379.6" y="319.2" text-anchor="middle" fill="url(#tPink)" stroke="url(#tPink)" stroke-width="0.45" font-size="22.5" font-weight="bold">I</text>
<text x="395.4" y="319.2" text-anchor="middle" fill="url(#tPink)" stroke="url(#tPink)" stroke-width="0.45" font-size="22.5" font-weight="bold">L</text>
<text x="414.7" y="319.2" text-anchor="middle" fill="url(#tPink)" stroke="url(#tPink)" stroke-width="0.45" font-size="22.5" font-weight="bold">-</text>
<text x="431.2" y="319.2" text-anchor="middle" fill="url(#tPink)" stroke="url(#tPink)" stroke-width="0.45" font-size="22.5" font-weight="bold">1</text>
<text x="450.0" y="319.2" text-anchor="middle" fill="url(#tPink)" stroke="url(#tPink)" stroke-width="0.45" font-size="22.5" font-weight="bold">ß</text>
<text x="387.4" y="346.6" textLength="58.8" lengthAdjust="spacingAndGlyphs" fill="url(#tOrange)" stroke="url(#tOrange)" stroke-width="0.45" font-size="21.4" font-weight="bold">VEGF</text>
</g>
</svg>
</body></html>
